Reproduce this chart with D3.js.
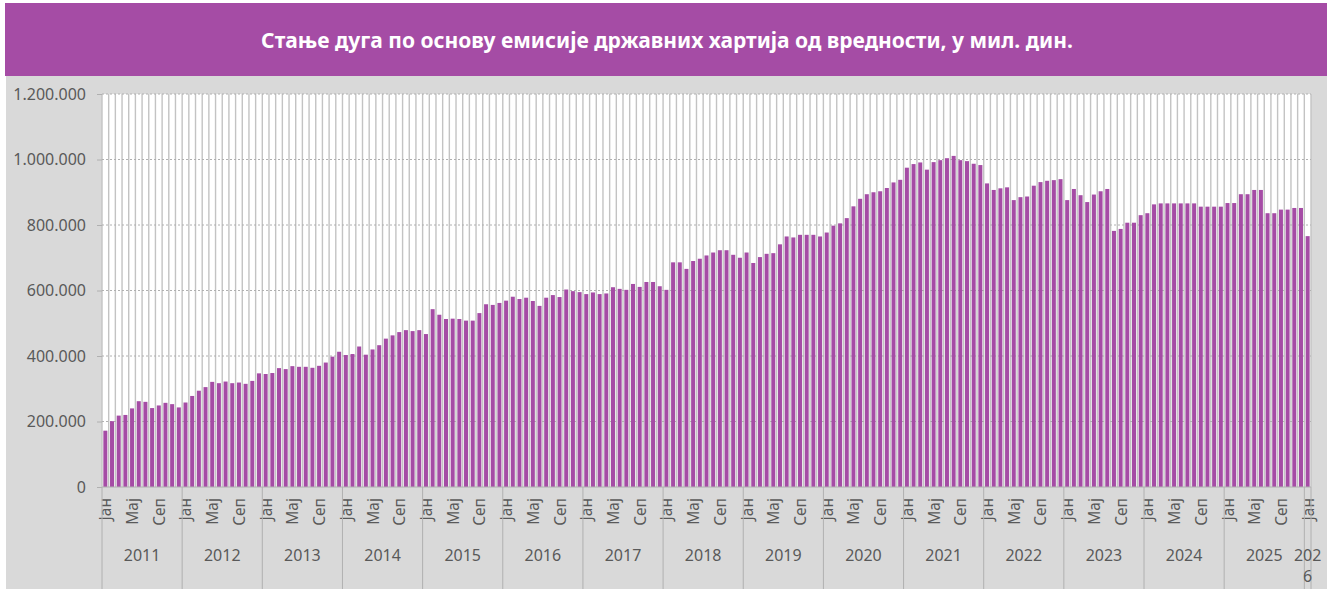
<!DOCTYPE html>
<html lang="sr">
<head>
<meta charset="UTF-8">
<title>Стање дуга</title>
<style>
  body { margin: 0; background: #fff; }
  svg { display: block; font-family: "Noto Sans", sans-serif; }
  .ylab, .mlab, .ylabel { fill: #595959; }
</style>
</head>
<body>
<svg width="1333" height="589"></svg>
<script src="https://cdn.jsdelivr.net/npm/d3@7/dist/d3.min.js"></script>
<script>
// стање дуга, мил. дин. (по месецима)
const years = [2011, 2012, 2013, 2014, 2015, 2016, 2017, 2018, 2019, 2020, 2021, 2022, 2023, 2024, 2025, 2026];
const months = ["Јан", "Феб", "Мар", "Апр", "Мај", "Јун", "Јул", "Авг", "Сеп", "Окт", "Нов", "Дец"];
const shownMonths = ["Јан", "Мај", "Сеп"];
const yTicks = [0, 200000, 400000, 600000, 800000, 1000000, 1200000];

const d2011 = [172000, 201000, 218000, 220000, 240000, 262000, 260000, 241000, 249000, 257000, 253000, 243000];
const d2012 = [258000, 278000, 294000, 305000, 321000, 317000, 322000, 317000, 319000, 315000, 324000, 347000];
const d2013 = [345000, 348000, 363000, 360000, 369000, 367000, 367000, 364000, 370000, 380000, 398000, 413000];
const d2014 = [403000, 406000, 429000, 404000, 420000, 433000, 453000, 463000, 473000, 479000, 476000, 479000];
const d2015 = [467000, 543000, 526000, 513000, 514000, 513000, 508000, 508000, 531000, 558000, 556000, 562000];
const d2016 = [569000, 581000, 574000, 578000, 568000, 553000, 578000, 586000, 580000, 603000, 598000, 595000];
const d2017 = [589000, 594000, 589000, 591000, 610000, 605000, 602000, 620000, 611000, 626000, 626000, 613000];
const d2018 = [602000, 686000, 686000, 666000, 690000, 697000, 707000, 716000, 723000, 723000, 709000, 700000];
const d2019 = [716000, 684000, 702000, 712000, 714000, 741000, 765000, 762000, 770000, 770000, 770000, 765000];
const d2020 = [777000, 798000, 805000, 821000, 857000, 880000, 894000, 900000, 903000, 913000, 930000, 938000];
const d2021 = [975000, 986000, 991000, 969000, 992000, 998000, 1004000, 1011000, 998000, 995000, 987000, 983000];
const d2022 = [927000, 907000, 912000, 915000, 876000, 885000, 887000, 920000, 931000, 935000, 937000, 940000];
const d2023 = [876000, 910000, 891000, 870000, 893000, 903000, 910000, 782000, 788000, 807000, 807000, 830000];
const d2024 = [836000, 863000, 866000, 866000, 866000, 866000, 866000, 866000, 856000, 856000, 856000, 856000];
const d2025 = [867000, 867000, 894000, 894000, 907000, 907000, 836000, 836000, 847000, 847000, 852000, 852000];
const d2026 = [766000];

const byYear = [d2011, d2012, d2013, d2014, d2015, d2016, d2017, d2018, d2019, d2020, d2021, d2022, d2023, d2024, d2025, d2026];

const data = [];
byYear.forEach((arr, yi) => arr.forEach((v, mi) => data.push({ i: data.length, year: years[yi], month: months[mi], value: v })));

const svg = d3.select("svg");
const W = 1333, H = 589;
const plot = { left: 102, right: 1311, top: 94, bottom: 487 };
const purple = "#a54ca5";

const fmt = d3.formatLocale({ decimal: ",", thousands: ".", grouping: [3], currency: ["", ""] }).format(",d");

// позадина
svg.append("rect").attr("x", 6).attr("y", 76).attr("width", 1321).attr("height", H - 76).attr("fill", "#d9d9d9");
svg.append("rect").attr("x", 5).attr("y", 3).attr("width", 1322).attr("height", 73).attr("fill", purple);
svg.append("text")
    .attr("x", 667).attr("y", 48)
    .attr("text-anchor", "middle")
    .attr("fill", "#fff")
    .attr("font-weight", "bold")
    .attr("font-size", 21)
    .text("Стање дуга по основу емисије државних хартија од вредности, у мил. дин.");

svg.append("rect")
    .attr("x", plot.left).attr("y", plot.top)
    .attr("width", plot.right - plot.left).attr("height", plot.bottom - plot.top)
    .attr("fill", "#fff");

const x = d3.scaleBand()
    .domain(data.map(d => d.i))
    .range([plot.left, plot.right])
    .paddingInner(0.4)
    .paddingOuter(0.2);
const step = x.step();

const y = d3.scaleLinear().domain([0, 1200000]).range([plot.bottom, plot.top]);

// вертикалне линије мреже
svg.append("g").selectAll("line")
    .data(d3.range(data.length + 1))
    .join("line")
    .attr("x1", i => plot.left + i * step).attr("x2", i => plot.left + i * step)
    .attr("y1", plot.top).attr("y2", plot.bottom)
    .attr("stroke", "#c3c3c3").attr("stroke-width", 1.4);

// хоризонталне (тачкасте)
svg.append("g").selectAll("line")
    .data(yTicks.slice(1))
    .join("line")
    .attr("x1", plot.left).attr("x2", plot.right)
    .attr("y1", d => y(d)).attr("y2", d => y(d))
    .attr("stroke", "#b0b0b0").attr("stroke-width", 1).attr("stroke-dasharray", "2,2");

// стубови
svg.append("g").selectAll("rect")
    .data(data)
    .join("rect")
    .attr("x", d => x(d.i))
    .attr("width", x.bandwidth())
    .attr("y", d => y(d.value))
    .attr("height", d => y(0) - y(d.value))
    .attr("fill", purple);

// Y оса
const yAxis = svg.append("g")
    .attr("transform", `translate(${plot.left},0)`)
    .call(d3.axisLeft(y).tickValues(yTicks).tickFormat(fmt).tickSize(5).tickPadding(11));
yAxis.select(".domain").remove();
yAxis.selectAll(".tick line").attr("stroke", "#b0b0b0");
yAxis.selectAll(".tick text").attr("class", "ylab").attr("font-size", 16).attr("font-family", "Noto Sans, sans-serif");

// X оса
svg.append("line")
    .attr("x1", plot.left).attr("x2", plot.right)
    .attr("y1", plot.bottom).attr("y2", plot.bottom)
    .attr("stroke", "#b0b0b0");

svg.append("g").selectAll("text")
    .data(data.filter(d => shownMonths.includes(d.month)))
    .join("text")
    .attr("class", "mlab")
    .attr("font-size", 15.5)
    .attr("text-anchor", "end")
    .attr("dominant-baseline", "central")
    .attr("transform", d => `translate(${x(d.i) + x.bandwidth() / 2},${plot.bottom + 11}) rotate(-90)`)
    .text(d => d.month);

// године
const yearSpans = years.map(yr => {
  const idx = data.filter(d => d.year === yr).map(d => d.i);
  return { year: yr, x0: plot.left + d3.min(idx) * step, x1: plot.left + (d3.max(idx) + 1) * step };
});

svg.append("g").selectAll("line")
    .data([...yearSpans.map(s => s.x0), plot.right])
    .join("line")
    .attr("x1", d => d).attr("x2", d => d)
    .attr("y1", plot.bottom).attr("y2", H)
    .attr("stroke", "#b0b0b0");

const yl = svg.append("g").selectAll("text")
    .data(yearSpans)
    .join("text")
    .attr("class", "ylabel")
    .attr("font-size", 16)
    .attr("text-anchor", "middle")
    .attr("x", s => (s.x0 + s.x1) / 2)
    .attr("y", 561);
yl.each(function(s) {
  const t = d3.select(this);
  const label = String(s.year);
  if (s.x1 - s.x0 < 30) {
    t.append("tspan").attr("x", (s.x0 + s.x1) / 2).text(label.slice(0, 3));
    t.append("tspan").attr("x", (s.x0 + s.x1) / 2).attr("dy", 21).text(label.slice(3));
  } else {
    t.text(label);
  }
});
</script>
</body>
</html>
